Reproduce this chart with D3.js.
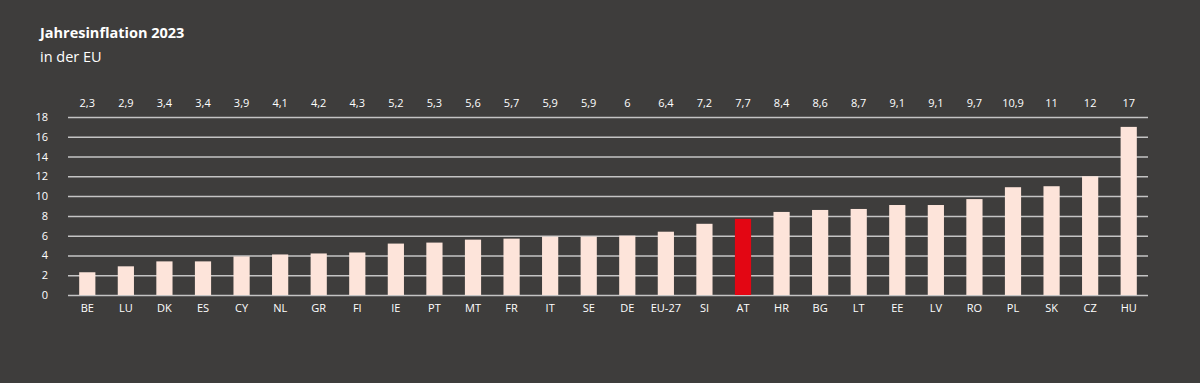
<!DOCTYPE html>
<html>
<head>
<meta charset="utf-8">
<script src="https://cdn.jsdelivr.net/npm/d3@7"></script>
<style>
  html, body { margin: 0; padding: 0; background: #3e3d3c; }
  svg { display: block; font-family: "Open Sans", sans-serif; }
</style>
</head>
<body>
<svg id="chart" width="1200" height="383"></svg>
<script>
var countries = ["BE", "LU", "DK", "ES", "CY", "NL", "GR", "FI", "IE", "PT", "MT", "FR", "IT", "SE",
  "DE", "EU-27", "SI", "AT", "HR", "BG", "LT", "EE", "LV", "RO", "PL", "SK", "CZ", "HU"];
var inflation = [2.3, 2.9, 3.4, 3.4, 3.9, 4.1, 4.2, 4.3, 5.2, 5.3, 5.6, 5.7, 5.9, 5.9,
  6, 6.4, 7.2, 7.7, 8.4, 8.6, 8.7, 9.1, 9.1, 9.7, 10.9, 11, 12, 17];
var yTicks = [0, 2, 4, 6, 8, 10, 12, 14, 16, 18];
var highlight = "AT";

function init() {
  var left = 68, right = 1148, top = 117, bottom = 295;

  var svg = d3.select("#chart");

  svg.append("text")
    .attr("x", 40).attr("y", 38)
    .attr("fill", "#ffffff")
    .attr("font-size", 14.5)
    .attr("font-weight", "bold")
    .text("Jahresinflation 2023");

  svg.append("text")
    .attr("x", 40).attr("y", 62)
    .attr("fill", "#ffffff")
    .attr("font-size", 14.5)
    .text("in der EU");

  var x = d3.scaleBand().domain(countries).range([left, right]).paddingInner(0.58).paddingOuter(0.29);
  var y = d3.scaleLinear().domain([0, 18]).range([bottom, top]);

  var fmt = function (v) { return String(v).replace(".", ","); };

  // grid + y labels
  var yAxis = d3.axisLeft(y).tickValues(yTicks).tickSize(-(right - left)).tickPadding(20);
  var g = svg.append("g")
    .attr("transform", "translate(" + left + ",0)")
    .call(yAxis);
  g.select(".domain").remove();
  g.selectAll(".tick line").attr("stroke", "#c4c4c4").attr("stroke-width", 1.5);
  g.selectAll(".tick text").attr("fill", "#ffffff").attr("font-size", 11)
    .attr("font-family", "Open Sans, sans-serif");

  svg.selectAll("rect.bar")
    .data(inflation)
    .enter().append("rect")
    .attr("class", "bar")
    .attr("x", function (d, i) { return x(countries[i]); })
    .attr("y", function (d) { return y(d); })
    .attr("width", x.bandwidth())
    .attr("height", function (d) { return y(0) - y(d); })
    .attr("fill", function (d, i) { return countries[i] === highlight ? "#e30613" : "#fde4da"; });

  svg.selectAll("text.val")
    .data(inflation)
    .enter().append("text")
    .attr("class", "val")
    .attr("x", function (d, i) { return x(countries[i]) + x.bandwidth() / 2; })
    .attr("y", 107)
    .attr("text-anchor", "middle")
    .attr("fill", "#ffffff")
    .attr("font-size", 11)
    .text(fmt);

  var xAxis = d3.axisBottom(x).tickSize(0).tickPadding(9);
  var gx = svg.append("g")
    .attr("transform", "translate(0," + bottom + ")")
    .call(xAxis);
  gx.select(".domain").remove();
  gx.selectAll(".tick text").attr("fill", "#ffffff").attr("font-size", 11)
    .attr("font-family", "Open Sans, sans-serif");
}

window.addEventListener("DOMContentLoaded", init);
</script>
</body>
</html>
